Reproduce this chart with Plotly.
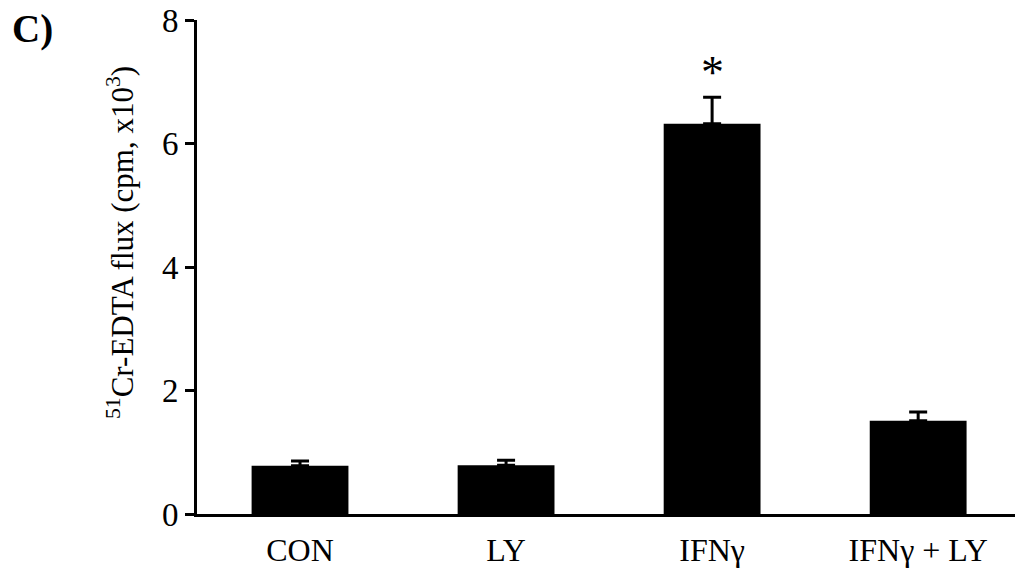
import plotly.graph_objects as go

categories = ["CON", "LY", "IFNγ", "IFNγ + LY"]
means = [0.78, 0.79, 6.32, 1.51]
errors = [0.08, 0.08, 0.43, 0.14]
y_ticks = [0, 2, 4, 6, 8]
star_label = "*"
y_title = "<sup>51</sup>Cr-EDTA flux (cpm, x10<sup>3</sup>)"
panel_label = "<b>C)</b>"

FONT = "Liberation Serif, Times New Roman, serif"
L, R, T, B = 197, 2, 20, 60
PW, PH = 1017 - L - R, 574 - T - B

fig = go.Figure()
fig.add_trace(go.Bar(
    x=categories, y=means,
    marker=dict(color="black", line=dict(width=0)),
    width=0.47,
    error_y=dict(type="data", array=errors, arrayminus=[0]*len(errors),
                 symmetric=False, color="black", thickness=3, width=9),
    showlegend=False,
))

fig.add_annotation(x=categories[2], y=means[2] + errors[2], text=star_label,
                   showarrow=False, yanchor="bottom", yshift=-3,
                   font=dict(family=FONT, size=46, color="black"))

fig.add_annotation(xref="paper", yref="paper", x=(10 - L) / PW, y=(574 - B - 5) / PH,
                   xanchor="left", yanchor="top", text=panel_label, showarrow=False,
                   font=dict(family=FONT, size=39, color="black"))

fig.add_annotation(xref="paper", yref="paper", x=(120 - L) / PW, y=(574 - B - 243) / PH,
                   xanchor="center", yanchor="middle", textangle=-90, text=y_title,
                   showarrow=False, font=dict(family=FONT, size=31, color="black"))

fig.update_layout(
    width=1017, height=574,
    margin=dict(l=L, r=R, t=T, b=B),
    paper_bgcolor="white", plot_bgcolor="white",
    font=dict(family=FONT, color="black"),
)
fig.update_xaxes(
    range=[-0.5, 3.47], showline=True, linecolor="black", linewidth=3,
    ticks="", tickfont=dict(family=FONT, size=32, color="black"),
    ticklabelstandoff=6, showgrid=False, zeroline=False,
)
fig.update_yaxes(
    range=[0, 8], tickvals=y_ticks, showline=True, linecolor="black", linewidth=3,
    ticks="outside", ticklen=9, tickwidth=3, tickcolor="black",
    tickfont=dict(family=FONT, size=33, color="black"),
    showgrid=False, zeroline=False,
)

fig.write_html("out.html")
